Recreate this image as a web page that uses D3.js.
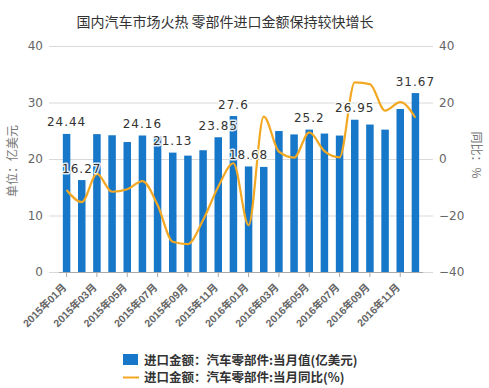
<!DOCTYPE html>
<html><head><meta charset="utf-8">
<script src="https://cdn.jsdelivr.net/npm/d3@7"></script>
<style>body{margin:0;background:#fff}svg{display:block}</style>
</head><body><svg id="c" width="489" height="388"></svg>
<script>
const months = ["2015年01月","2015年02月","2015年03月","2015年04月","2015年05月","2015年06月","2015年07月","2015年08月","2015年09月","2015年10月","2015年11月","2015年12月","2016年01月","2016年02月","2016年03月","2016年04月","2016年05月","2016年06月","2016年07月","2016年08月","2016年09月","2016年10月","2016年11月","2016年12月"];
const importValue = [24.44,16.27,24.4,24.2,23.0,24.16,24.0,21.13,20.6,21.55,23.85,27.6,18.68,18.6,24.95,24.35,25.2,24.5,24.15,26.95,26.1,25.2,28.85,31.67];
const yoyValue = [-11,-15.3,-5.3,-11.6,-10.7,-7.8,-16.3,-29.3,-30.1,-21.6,-9.8,-1.5,-23.4,15.0,2.6,0.5,9.4,2.8,0.6,27.1,26.5,17.1,20.1,14.6];
const labelIndex = [0,1,5,7,10,11,12,16,19,23];
const tickMonths = months.filter((d,i)=>i%2===0);
const leftTicks = [0,10,20,30,40];
const rightTicks = [-40,-20,0,20,40];
const title = "国内汽车市场火热 零部件进口金额保持较快增长";
const leftTitle = "单位：亿美元";
const rightTitle = "同比：%";
const seriesNames = ["进口金额：汽车零部件:当月值(亿美元)","进口金额：汽车零部件:当月同比(%)"];

const barColor = "#1777c8", lineColor = "#f2a823";
const svg = d3.select("#c");
const x = d3.scaleBand().domain(months).range([59,423]).padding(0);
const yL = d3.scaleLinear().domain([0,40]).range([272,46]);
const yR = d3.scaleLinear().domain([-40,40]).range([272,46]);
const cx = d => x(d) + x.bandwidth()/2;

svg.append("text").attr("x",225).attr("y",27).attr("text-anchor","middle")
  .attr("font-family","'Noto Sans CJK SC',sans-serif").attr("font-size",14).attr("fill","#333").text(title);

// grid
svg.append("g").selectAll("line").data(leftTicks).join("line")
  .attr("x1",49).attr("x2",433).attr("y1",d=>yL(d)+0.5).attr("y2",d=>yL(d)+0.5)
  .attr("stroke","#d9d9d9");

// left axis
const gl = svg.append("g").attr("transform","translate(49,0)")
  .call(d3.axisLeft(yL).tickValues(leftTicks).tickSize(0).tickPadding(6));
gl.select(".domain").remove();
gl.selectAll("text").attr("font-family","'DejaVu Sans',sans-serif").attr("font-size",12).attr("fill","#666");
const gr = svg.append("g").attr("transform","translate(433,0)")
  .call(d3.axisRight(yR).tickValues(rightTicks).tickSize(0).tickPadding(6));
gr.select(".domain").remove();
gr.selectAll("text").attr("font-family","'DejaVu Sans',sans-serif").attr("font-size",12).attr("fill","#666");

svg.append("text").attr("transform","translate(17,161) rotate(-90)").attr("text-anchor","middle")
  .attr("font-family","'Noto Sans CJK SC',sans-serif").attr("font-size",12).attr("fill","#777").text(leftTitle);
svg.append("text").attr("transform","translate(472,155) rotate(90)").attr("text-anchor","middle")
  .attr("font-family","'Noto Sans CJK SC',sans-serif").attr("font-size",12).attr("fill","#777").text(rightTitle);

// bars
const bw = 7.5;
svg.append("g").selectAll("rect").data(importValue).join("rect")
  .attr("x",(d,i)=>cx(months[i])-bw/2).attr("width",bw)
  .attr("y",d=>yL(d)).attr("height",d=>yL(0)-yL(d)).attr("fill",barColor);

// x axis
const gx = svg.append("g").attr("transform","translate(0,272)")
  .call(d3.axisBottom(x).tickValues(tickMonths).tickSize(5).tickFormat(""));
gx.select(".domain").attr("stroke","#aaa").attr("d","M59,0.5H423");
gx.selectAll(".tick line").attr("stroke","#aaa");
svg.append("g").selectAll("text").data(tickMonths).join("text")
  .attr("transform",d=>`translate(${cx(d)+0.5},288) rotate(-45)`)
  .attr("text-anchor","end")
  .attr("font-family","'Liberation Sans','Noto Sans CJK SC',sans-serif").attr("font-weight","bold")
  .attr("font-size",10.5).attr("fill","#666").text(d=>d);

// line
const line = d3.line().x((d,i)=>cx(months[i])).y(d=>yR(d)).curve(d3.curveMonotoneX);
svg.append("path").datum(yoyValue).attr("d",line).attr("fill","none")
  .attr("stroke",lineColor).attr("stroke-width",2.2).attr("stroke-linejoin","round");

// data labels
svg.append("g").selectAll("text").data(labelIndex).join("text")
  .attr("x",i=>cx(months[i])).attr("y",i=>yL(importValue[i])-7.5)
  .attr("text-anchor","middle").attr("font-family","'DejaVu Sans',sans-serif")
  .attr("font-size",12).attr("letter-spacing",1).attr("fill","#333")
  .attr("stroke","#fff").attr("stroke-width",3).attr("stroke-opacity",0.85)
  .attr("paint-order","stroke").attr("stroke-linejoin","round")
  .text(i=>String(importValue[i]));

// legend
const lg = svg.append("g").attr("font-family","'Noto Sans CJK SC',sans-serif").attr("font-size",12.5).attr("font-weight","bold").attr("fill","#333");
lg.append("rect").attr("x",123).attr("y",354).attr("width",15).attr("height",11).attr("fill",barColor);
lg.append("text").attr("x",144).attr("y",364.5).text(seriesNames[0]);
lg.append("line").attr("x1",123).attr("x2",139).attr("y1",377.5).attr("y2",377.5).attr("stroke",lineColor).attr("stroke-width",2);
lg.append("text").attr("x",144).attr("y",382).text(seriesNames[1]);
</script></body></html>
